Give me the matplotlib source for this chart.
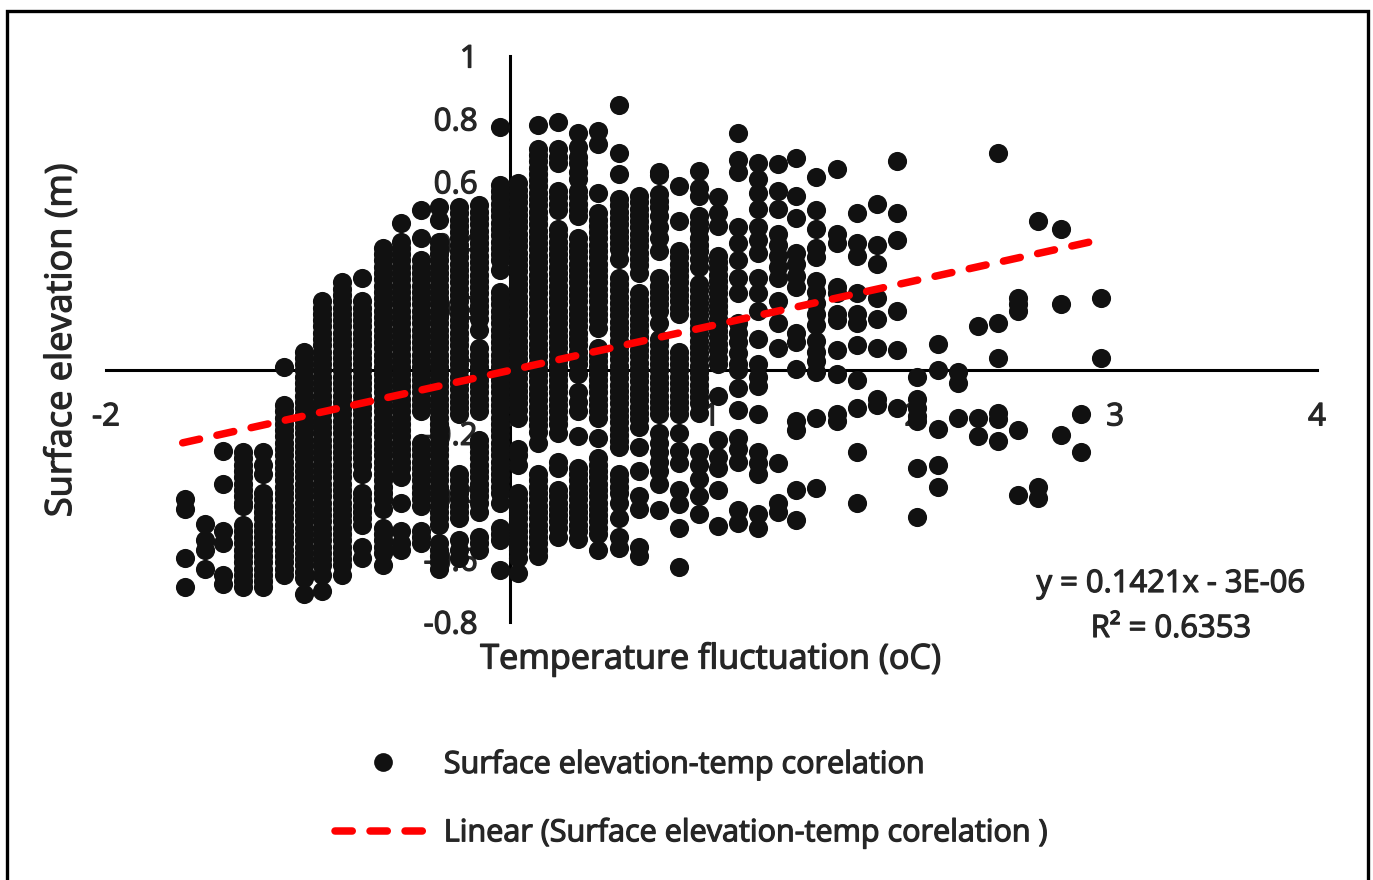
import matplotlib
matplotlib.use("Agg")
import matplotlib.pyplot as plt
import matplotlib.patheffects as pe
from matplotlib.lines import Line2D
from matplotlib.patches import Rectangle

X_TICKS = [-2, -1, 0, 1, 2, 3, 4]
Y_TICKS = [-0.8, -0.6, -0.4, -0.2, 0, 0.2, 0.4, 0.6, 0.8, 1]
TREND_X = [-1.62, 2.95]
TREND_Y = [-0.2302, 0.4192]

COLUMNS = [
 (-1.61, [-.41,-.44,-.595,-.69]),
 (-1.51, [-.487,-.54,-.57,-.63]),
 (-1.42, [-.255,-.36,-.51,-.55,-.65,-.68]),
 (-1.32, [-.26,-.28,-.30,-.32,-.34,-.36,-.38,-.40,-.42,-.43,-.49,-.51,-.53,-.55,-.57,-.59,-.61,-.63,-.65,-.67,-.69]),
 (-1.22, [-.26,-.30,-.33,-.39,-.41,-.43,-.45,-.47,-.49,-.51,-.53,-.55,-.57,-.59,-.61,-.63,-.65,-.67,-.69]),
 (-1.12, [.01,-.11,-.13,-.15,-.17,-.19,-.21,-.23,-.25,-.27,-.29,-.31,-.33,-.35,-.37,-.39,-.41,-.43,-.45,-.47,-.49,-.51,-.53,-.55,-.57,-.59,-.61,-.63,-.65]),
 (-1.02, [.06,.04,.02,0,-.02,-.04,-.06,-.08,-.10,-.12,-.14,-.16,-.18,-.20,-.22,-.24,-.26,-.28,-.30,-.32,-.34,-.36,-.38,-.40,-.42,-.44,-.46,-.48,-.50,-.52,-.54,-.56,-.58,-.60,-.62,-.64,-.66,-.71]),
 (-0.93, [.22,.20,.18,.16,.14,.12,.10,.08,.06,.04,.02,0,-.02,-.04,-.06,-.08,-.10,-.12,-.14,-.16,-.18,-.20,-.22,-.24,-.26,-.28,-.30,-.32,-.34,-.36,-.38,-.40,-.42,-.44,-.46,-.48,-.50,-.52,-.54,-.56,-.58,-.60,-.62,-.65,-.70]),
 (-0.83, [.28,.26,.24,.22,.20,.18,.16,.14,.12,.10,.08,.06,.04,.02,0,-.02,-.04,-.06,-.08,-.10,-.12,-.14,-.16,-.18,-.20,-.22,-.24,-.26,-.28,-.30,-.32,-.34,-.36,-.38,-.40,-.42,-.44,-.46,-.48,-.50,-.52,-.54,-.56,-.58,-.60,-.62,-.65]),
 (-0.73, [.295,.22,.20,.18,.16,.14,.12,.10,.08,.06,.04,.02,0,-.02,-.04,-.06,-.08,-.10,-.12,-.14,-.16,-.18,-.20,-.22,-.24,-.26,-.28,-.30,-.33,-.39,-.41,-.43,-.45,-.47,-.49,-.56,-.595]),
 (-0.63, [.39,.37,.35,.33,.31,.29,.27,.25,.23,.21,.19,.17,.15,.13,.11,.09,.07,.05,.03,.01,-.01,-.03,-.05,-.07,-.09,-.11,-.13,-.15,-.17,-.19,-.21,-.23,-.25,-.27,-.29,-.31,-.33,-.35,-.37,-.39,-.41,-.44,-.50,-.52,-.54,-.56,-.58,-.62]),
 (-0.54, [.47,.41,.39,.37,.35,.33,.31,.29,.27,.25,.23,.21,.19,.17,.15,.13,.11,.09,.07,.05,.03,.01,-.01,-.03,-.05,-.07,-.09,-.11,-.13,-.15,-.17,-.19,-.21,-.23,-.25,-.27,-.29,-.31,-.34,-.42,-.51,-.55,-.57]),
 (-0.44, [.51,.42,.35,.33,.31,.29,.27,.25,.23,.21,.19,.17,.15,.13,.11,.09,.07,.05,.03,.01,-.01,-.03,-.05,-.07,-.09,-.11,-.13,-.23,-.25,-.27,-.29,-.31,-.33,-.35,-.37,-.39,-.41,-.43,-.51,-.53,-.55]),
 (-0.35, [.52,.48,.41,.39,.37,.35,.33,.31,.29,.27,.25,.23,.21,.19,.17,.15,.13,.11,.09,.07,.05,.03,.01,-.01,-.03,-.05,-.07,-.09,-.11,-.13,-.15,-.17,-.19,-.21,-.23,-.25,-.27,-.29,-.31,-.33,-.35,-.37,-.39,-.41,-.43,-.45,-.47,-.49,-.55,-.57,-.59,-.61,-.63]),
 (-0.25, [.52,.50,.48,.46,.44,.42,.40,.38,.36,.34,.32,.30,.28,.26,.24,.22,.20,.18,.16,.14,.12,.10,.08,.06,.04,.02,0,-.02,-.04,-.06,-.08,-.10,-.12,-.14,-.33,-.35,-.37,-.39,-.41,-.43,-.45,-.47,-.54,-.57,-.595]),
 (-0.15, [.525,.505,.485,.465,.445,.425,.405,.385,.365,.345,.325,.305,.285,.265,.245,.225,.205,.185,.165,.13,.07,.05,.03,.01,-.01,-.03,-.05,-.07,-.09,-.11,-.13,-.22,-.24,-.26,-.28,-.30,-.32,-.34,-.36,-.38,-.40,-.42,-.45,-.53,-.55,-.57]),
 (-0.05, [.775,.59,.57,.55,.53,.51,.49,.47,.45,.43,.41,.39,.37,.35,.32,.25,.23,.21,.19,.17,.15,.13,.11,.09,.07,.05,.03,.01,-.01,-.03,-.05,-.07,-.09,-.11,-.13,-.15,-.17,-.19,-.21,-.23,-.25,-.27,-.29,-.31,-.33,-.35,-.37,-.39,-.42,-.50,-.52,-.54,-.635]),
 (0.04, [.595,.575,.555,.535,.515,.495,.475,.455,.435,.415,.395,.375,.355,.335,.315,.295,.275,.255,.235,.215,.195,.175,.155,.135,.115,.095,.075,.055,.035,.015,-.005,-.025,-.045,-.065,-.085,-.105,-.125,-.15,-.25,-.27,-.30,-.39,-.41,-.43,-.45,-.47,-.49,-.51,-.53,-.55,-.57,-.595,-.645]),
 (0.14, [.78,.705,.685,.665,.645,.625,.605,.585,.565,.545,.525,.505,.485,.465,.445,.425,.405,.385,.365,.345,.325,.305,.285,.265,.245,.225,.205,.185,.165,.145,.125,.105,.085,.065,.045,.025,.005,-.015,-.035,-.055,-.075,-.095,-.115,-.135,-.155,-.175,-.195,-.23,-.33,-.35,-.37,-.39,-.41,-.43,-.45,-.47,-.49,-.51,-.53,-.55,-.57,-.59]),
 (0.24, [.79,.705,.68,.66,.57,.55,.53,.51,.45,.43,.41,.39,.37,.35,.33,.31,.29,.27,.25,.23,.21,.19,.17,.15,.13,.11,.09,.07,.05,.03,.01,-.01,-.03,-.05,-.07,-.09,-.11,-.13,-.15,-.17,-.20,-.29,-.31,-.38,-.40,-.42,-.44,-.46,-.48,-.50,-.53]),
 (0.34, [.755,.71,.68,.66,.63,.61,.57,.55,.53,.51,.49,.42,.40,.38,.36,.34,.32,.30,.28,.26,.24,.22,.20,.18,.16,.14,.12,.10,.08,.06,.04,.02,-.01,-.07,-.10,-.13,-.21,-.31,-.33,-.35,-.37,-.39,-.41,-.43,-.45,-.47,-.49,-.51,-.535]),
 (0.44, [.76,.72,.565,.50,.48,.46,.44,.42,.40,.38,.36,.34,.32,.30,.28,.26,.24,.22,.20,.18,.16,.135,.07,.05,.03,.01,-.01,-.03,-.05,-.07,-.09,-.11,-.13,-.15,-.215,-.28,-.30,-.32,-.34,-.36,-.38,-.40,-.42,-.44,-.46,-.48,-.50,-.52,-.57]),
 (0.54, [.845,.69,.625,.545,.525,.505,.485,.465,.445,.425,.405,.385,.355,.295,.275,.255,.235,.215,.195,.175,.155,.135,.115,.095,.075,.055,.035,.015,-.005,-.025,-.045,-.065,-.085,-.105,-.125,-.145,-.165,-.185,-.205,-.225,-.245,-.33,-.35,-.37,-.39,-.42,-.47,-.53,-.565]),
 (0.64, [.555,.535,.515,.495,.475,.455,.435,.415,.395,.375,.355,.335,.31,.245,.225,.205,.185,.165,.145,.125,.105,.085,.065,.045,.025,.005,-.015,-.035,-.055,-.075,-.095,-.115,-.135,-.155,-.18,-.245,-.32,-.40,-.44,-.56,-.59]),
 (0.74, [.63,.62,.56,.54,.52,.49,.455,.42,.38,.295,.27,.25,.23,.21,.19,.15,.10,.08,.06,.04,.02,0,-.02,-.04,-.06,-.08,-.10,-.12,-.14,-.20,-.23,-.26,-.29,-.32,-.36,-.445]),
 (0.84, [.585,.475,.38,.36,.34,.32,.30,.28,.26,.24,.22,.20,.18,.06,.04,.02,0,-.02,-.04,-.06,-.08,-.10,-.12,-.14,-.20,-.255,-.295,-.38,-.425,-.50,-.625]),
 (0.94, [.635,.58,.555,.49,.47,.45,.42,.40,.38,.355,.33,.275,.255,.235,.215,.195,.175,.155,.135,.115,.095,.075,.055,.035,.015,-.005,-.025,-.045,-.065,-.085,-.105,-.135,-.26,-.30,-.345,-.40,-.455]),
 (1.03, [.55,.50,.46,.365,.345,.325,.305,.285,.265,.245,.225,.205,.185,.165,.145,.125,.105,.085,.065,.04,.02,-.08,-.22,-.275,-.31,-.38,-.495]),
 (1.13, [.755,.67,.63,.455,.405,.35,.295,.245,.15,.12,.09,.055,.02,0,-.055,-.125,-.215,-.25,-.29,-.445,-.485]),
 (1.23, [.66,.61,.565,.515,.455,.415,.375,.295,.245,.19,.10,.02,-.02,-.05,-.14,-.26,-.295,-.33,-.455,-.50]),
 (1.33, [.655,.57,.515,.435,.40,.365,.33,.295,.22,.15,.07,-.295,-.42,-.45]),
 (1.42, [.675,.555,.485,.375,.34,.30,.265,.12,.09,.005,-.16,-.19,-.38,-.475]),
 (1.52, [.615,.51,.45,.39,.36,.285,.25,.215,.18,.145,.095,.06,.03,-.005,-.15,-.375]),
 (1.62, [.64,.435,.405,.265,.245,.18,.16,.065,-.01,-.14,-.16]),
 (1.72, [.50,.405,.365,.245,.18,.15,.08,-.03,-.12,-.26,-.42]),
 (1.82, [.53,.40,.34,.23,.165,.07,-.09,-.11]),
 (1.92, [.665,.50,.415,.19,.065,-.12]),
 (2.02, [-.02,-.09,-.12,-.145,-.16,-.31,-.465]),
 (2.12, [.085,0,-.185,-.30,-.37]),
 (2.22, [-.005,-.04,-.15]),
 (2.32, [.14,-.15,-.21]),
 (2.42, [.69,.15,.04,-.135,-.155,-.225]),
 (2.52, [.23,.21,.19,-.19,-.395]),
 (2.62, [.475,-.37,-.405]),
 (2.73, [.45,.21,-.205]),
 (2.83, [-.14,-.26]),
 (2.93, [.23,.04]),
]

W, H = 1373, 880
TXT = "#262626"
BOLD = [pe.withStroke(linewidth=0.9, foreground=TXT)]
plt.rcParams["font.family"] = ["Open Sans", "DejaVu Sans"]
fig = plt.figure(figsize=(W / 100, H / 100), dpi=100)
ax = fig.add_axes([106 / W, 1 - 622 / H, (1317 - 106) / W, (622 - 56) / H])
ax.set_xlim(-2, 4)
ax.set_ylim(-0.8, 1)
ax.patch.set_alpha(0)
for s in ("top", "right"):
    ax.spines[s].set_visible(False)
for s in ("left", "bottom"):
    ax.spines[s].set_position(("data", 0))
    ax.spines[s].set_linewidth(2.2)
    ax.spines[s].set_zorder(1)

xs = [c[0] for c in COLUMNS for _ in c[1]]
ys = [v for c in COLUMNS for v in c[1]]
ax.scatter(xs, ys, s=190, color="#111111", linewidths=0, zorder=3, clip_on=False)
ax.plot(TREND_X, TREND_Y, color="#ff0000", lw=5.4, zorder=4,
        dashes=(2.3, 2.37), dash_capstyle="round")

ax.set_xticks(X_TICKS)
ax.set_xticklabels([str(v) for v in X_TICKS])
ax.set_yticks(Y_TICKS)
ax.set_yticklabels([f"{v:g}" for v in Y_TICKS])
ax.tick_params(axis="both", length=0, labelsize=22.5, labelcolor=TXT)
ax.tick_params(axis="x", pad=23)
ax.tick_params(axis="y", pad=23)
for t in ax.get_xticklabels() + ax.get_yticklabels():
    t.set_zorder(6)
    t.set_path_effects(BOLD)

fig.text(62 / W, 1 - 340 / H, "Surface elevation (m)", rotation=90, ha="center", va="center",
         fontsize=26, color=TXT, path_effects=BOLD)
fig.text(710 / W, 1 - 659 / H, "Temperature fluctuation (oC)", ha="center", va="center",
         fontsize=24.6, color=TXT, path_effects=BOLD)
fig.text(1171 / W, 1 - 584 / H, "y = 0.1421x - 3E-06", ha="center", va="center",
         fontsize=22.3, color=TXT, path_effects=BOLD)
fig.text(1171 / W, 1 - 629 / H, "R\u00b2 = 0.6353", ha="center", va="center",
         fontsize=22.3, color=TXT, path_effects=BOLD)

handles = [Line2D([], [], ls="none", marker="o", ms=13.5, mfc="#111111", mec="none"),
           Line2D([], [], color="#ff0000", lw=5.4, dashes=(2.3, 2.37), dash_capstyle="round")]
labels = ["Surface elevation-temp corelation", "Linear (Surface elevation-temp corelation )"]
leg = fig.legend(handles, labels, loc="upper left", bbox_to_anchor=(335 / W, 1 - 749 / H),
                 frameon=False, handlelength=3.17, handletextpad=0.39,
                 labelspacing=1.22, borderaxespad=0, borderpad=0, labelcolor=TXT,
                 prop={"size": 22})
for t in leg.get_texts():
    t.set_path_effects(BOLD)

fig.add_artist(Rectangle((7 / W, -0.01), 1361 / W, 1 - 11 / H + 0.01, transform=fig.transFigure,
                         fill=False, ec="#000000", lw=2.4))
fig.savefig("out.png", dpi=100)
